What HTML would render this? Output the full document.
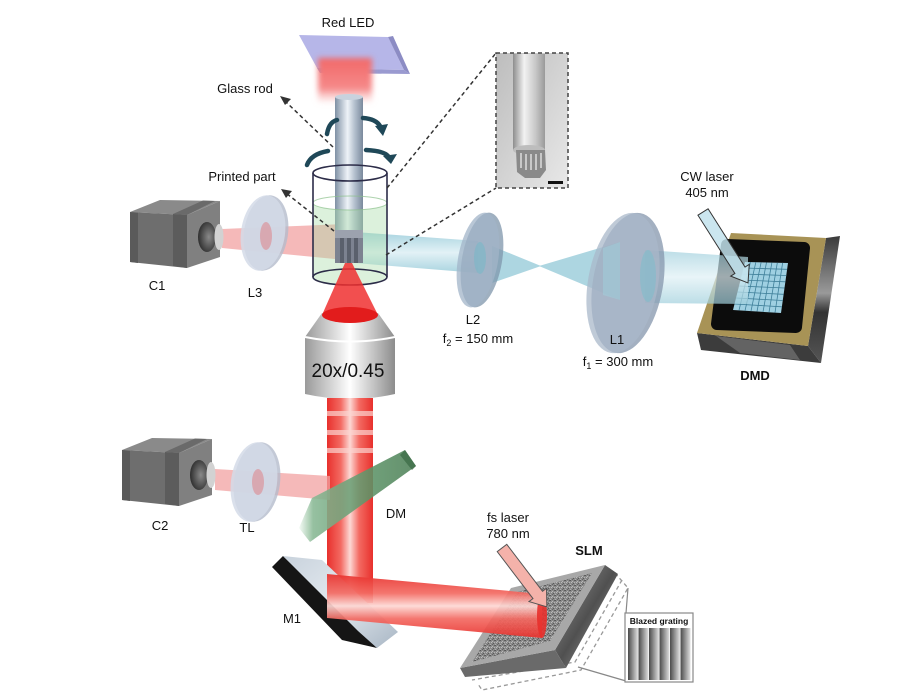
<!DOCTYPE html>
<html><head><meta charset="utf-8"><style>
html,body{margin:0;padding:0;background:#fff;}
svg{display:block;}
text{font-family:"Liberation Sans",Arial,sans-serif;fill:#111;}
</style></head><body>
<svg width="921" height="700" viewBox="0 0 921 700" xmlns="http://www.w3.org/2000/svg">
<defs>
<linearGradient id="rod" x1="0" y1="0" x2="1" y2="0">
<stop offset="0" stop-color="#7f90a4"/><stop offset="0.45" stop-color="#eef3f8"/><stop offset="0.7" stop-color="#b4c0ce"/><stop offset="1" stop-color="#7a899c"/></linearGradient>
<linearGradient id="silver" x1="0" y1="0" x2="1" y2="0">
<stop offset="0" stop-color="#9a9a9a"/><stop offset="0.3" stop-color="#d6d6d6"/><stop offset="0.5" stop-color="#ffffff"/><stop offset="0.75" stop-color="#c6c6c6"/><stop offset="1" stop-color="#8c8c8c"/></linearGradient>
<linearGradient id="redV" x1="0" y1="0" x2="1" y2="0">
<stop offset="0" stop-color="#e8302c"/><stop offset="0.3" stop-color="#f36a62"/><stop offset="0.5" stop-color="#fdd8d4"/><stop offset="0.7" stop-color="#f36a62"/><stop offset="1" stop-color="#e8302c"/></linearGradient>
<linearGradient id="redH" x1="0" y1="0" x2="0" y2="1">
<stop offset="0" stop-color="#e8302c"/><stop offset="0.3" stop-color="#f36a62"/><stop offset="0.5" stop-color="#fdd8d4"/><stop offset="0.7" stop-color="#f36a62"/><stop offset="1" stop-color="#e8302c"/></linearGradient>
<linearGradient id="blueH" x1="0" y1="0" x2="0" y2="1">
<stop offset="0" stop-color="#9fcfdc"/><stop offset="0.5" stop-color="#dff0f5"/><stop offset="1" stop-color="#9fcfdc"/></linearGradient>
<linearGradient id="glow" x1="0" y1="0" x2="0" y2="1">
<stop offset="0" stop-color="#f26868"/><stop offset="0.7" stop-color="#f58a8a"/><stop offset="1" stop-color="#fbd0d0" stop-opacity="0.3"/></linearGradient>
<linearGradient id="green" x1="0" y1="0" x2="1" y2="0">
<stop offset="0" stop-color="#f4fbf5"/><stop offset="0.12" stop-color="#88b894"/><stop offset="0.6" stop-color="#5d9468"/><stop offset="1" stop-color="#4e8058"/></linearGradient>
<linearGradient id="inset" x1="0" y1="0" x2="1" y2="1">
<stop offset="0" stop-color="#bdbdbd"/><stop offset="1" stop-color="#e8e8e8"/></linearGradient>
<linearGradient id="irod" x1="0" y1="0" x2="1" y2="0">
<stop offset="0" stop-color="#8e8e8e"/><stop offset="0.35" stop-color="#f2f2f2"/><stop offset="0.7" stop-color="#c8c8c8"/><stop offset="1" stop-color="#9a9a9a"/></linearGradient>
<linearGradient id="bar" x1="0" y1="0" x2="1" y2="0">
<stop offset="0" stop-color="#4a4a4a"/><stop offset="1" stop-color="#e0e0e0"/></linearGradient>
<linearGradient id="slmside" x1="0" y1="0" x2="1" y2="1">
<stop offset="0" stop-color="#9a9a9a"/><stop offset="0.5" stop-color="#505050"/><stop offset="1" stop-color="#b0b0b0"/></linearGradient>
<linearGradient id="mirror" x1="0" y1="0" x2="1" y2="1">
<stop offset="0" stop-color="#c8d2dc"/><stop offset="0.5" stop-color="#e4eaf0"/><stop offset="1" stop-color="#a8b6c4"/></linearGradient>
<linearGradient id="dmdside" x1="0" y1="0" x2="0" y2="1">
<stop offset="0" stop-color="#3a3a3a"/><stop offset="0.45" stop-color="#9a9a9a"/><stop offset="0.6" stop-color="#333"/><stop offset="1" stop-color="#555"/></linearGradient>
<radialGradient id="lenshole" cx="0.6" cy="0.5" r="0.6">
<stop offset="0" stop-color="#8a8a8a"/><stop offset="1" stop-color="#2e2e2e"/></radialGradient>
<filter id="blur3" x="-30%" y="-30%" width="160%" height="160%"><feGaussianBlur stdDeviation="3"/></filter>
<pattern id="sp" width="5" height="5" patternUnits="userSpaceOnUse">
<rect width="5" height="5" fill="#8a8a8a"/>
<rect x="0" y="0" width="1" height="1" fill="#585858"/>
<rect x="2" y="1" width="1" height="1" fill="#b8b8b8"/>
<rect x="4" y="0" width="1" height="1" fill="#606060"/>
<rect x="1" y="2" width="1" height="1" fill="#bcbcbc"/>
<rect x="3" y="3" width="1" height="1" fill="#5a5a5a"/>
<rect x="0" y="4" width="1" height="1" fill="#b0b0b0"/>
<rect x="2" y="4" width="1" height="1" fill="#646464"/>
<rect x="4" y="2" width="1" height="1" fill="#b4b4b4"/>
</pattern>
</defs>

<!-- Red LED plate -->
<polygon points="299,35 388,37 404,70 317,68" fill="#b6b6e8"/>
<polygon points="388,37 393,36 410,74 404,70" fill="#8c8cc4"/>
<polygon points="317,68 404,70 410,74 320,73" fill="#9a9ad0"/>
<!-- glow -->
<rect x="318" y="58" width="54" height="44" fill="url(#glow)" filter="url(#blur3)"/>

<!-- pink beam C1 -> vial -->
<polygon points="222,229 345,224 345,260 222,248" fill="#f2a2a2" opacity="0.75"/>
<!-- blue beam vial -> L2 -->
<polygon points="355,232 478,241 478,273 355,263" fill="url(#blueH)" opacity="0.9"/>

<!-- glass rod -->
<rect x="335" y="97" width="28" height="135" fill="url(#rod)"/>
<ellipse cx="349" cy="97" rx="14" ry="3" fill="#c8d2de"/>

<!-- vial -->
<path d="M313,203 L313,277 A37,8 0 0 0 387,277 L387,203 A37,7 0 0 1 313,203 Z" fill="#a8dca8" opacity="0.4"/>
<ellipse cx="350" cy="203" rx="37" ry="7" fill="none" stroke="#8cc08c" stroke-width="1" opacity="0.7"/>
<!-- printed part -->
<rect x="335" y="230" width="28" height="33" fill="#7c8290"/>
<rect x="340" y="238" width="4" height="25" fill="#5a606c"/>
<rect x="347" y="238" width="4" height="25" fill="#5a606c"/>
<rect x="354" y="238" width="4" height="25" fill="#5a606c"/>
<rect x="335" y="230" width="28" height="8" fill="#9ca2ae"/>
<!-- vial outline -->
<ellipse cx="350" cy="173" rx="37" ry="8" fill="none" stroke="#2c2c48" stroke-width="1.6"/>
<line x1="313" y1="173" x2="313" y2="277" stroke="#2c2c48" stroke-width="1.6"/>
<line x1="387" y1="173" x2="387" y2="277" stroke="#2c2c48" stroke-width="1.6"/>
<ellipse cx="350" cy="277" rx="37" ry="8" fill="none" stroke="#2c2c48" stroke-width="1.6"/>

<!-- L3 -->
<ellipse cx="266" cy="233" rx="22" ry="38" transform="rotate(8 266 233)" fill="#b4bccc" opacity="0.8"/>
<ellipse cx="263" cy="233" rx="22" ry="38" transform="rotate(8 263 233)" fill="#d4dbe8" opacity="0.85"/>
<ellipse cx="266" cy="236" rx="6" ry="14" fill="#e07a80" opacity="0.5"/>

<!-- C1 camera -->
<g id="cam1">
<polygon points="130,212 160,200 220,201 187,215" fill="#8a8a8a"/>
<polygon points="173,214 203,200.5 215,201 187,215" fill="#6a6a6a"/>
<polygon points="130,212 187,215 187,268 130,262" fill="#6e6e6e"/>
<polygon points="130,212 138,212.5 138,263 130,262" fill="#5a5a5a"/>
<polygon points="173,214 187,215 187,268 173,266" fill="#5c5c5c"/>
<polygon points="187,215 220,201 220,257 187,268" fill="#808080"/>
<ellipse cx="207" cy="237" rx="9" ry="15" fill="url(#lenshole)"/>
<ellipse cx="219" cy="237" rx="4.5" ry="13" fill="#d2d2d2"/>
</g>

<!-- DMD -->
<polygon points="826,238 840,236 821,363 808,346" fill="url(#dmdside)"/>
<polygon points="697,333 808,346 821,363 701,350" fill="#3c3c3c"/>
<polygon points="716,336 790,345 800,360 740,353" fill="#8a8a8a" opacity="0.5"/>
<polygon points="731,233 826,238 808,346 697,333" fill="#a89356"/>
<polygon points="727,245 804,248 796,327 717,324" fill="#0c0c0c" stroke="#0c0c0c" stroke-width="12" stroke-linejoin="round"/>
<polygon points="745,262 788,263 781,313 733,310" fill="#9fd0e2"/>
<g stroke="#3f7f99" stroke-width="0.8">
<line x1="750.4" y1="262.1" x2="739" y2="310.4"/><line x1="755.8" y1="262.3" x2="745" y2="310.8"/><line x1="761.1" y1="262.4" x2="751" y2="311.1"/><line x1="766.5" y1="262.5" x2="757" y2="311.5"/><line x1="771.9" y1="262.6" x2="763" y2="311.9"/><line x1="777.3" y1="262.8" x2="769" y2="312.3"/><line x1="782.6" y1="262.9" x2="775" y2="312.6"/>
<line x1="743.5" y1="268" x2="787.1" y2="269.3"/><line x1="742" y1="274" x2="786.3" y2="275.5"/><line x1="740.5" y1="280" x2="785.4" y2="281.8"/><line x1="739" y1="286" x2="784.5" y2="288"/><line x1="737.5" y1="292" x2="783.6" y2="294.3"/><line x1="736" y1="298" x2="782.8" y2="300.5"/><line x1="734.5" y1="304" x2="781.9" y2="306.8"/>
</g>

<!-- blue beams L2 -> L1 -> DMD -->
<polygon points="492,246 541,266 492,283" fill="#9fcfdc" opacity="0.85"/>
<polygon points="539,266 620,242 620,300" fill="#9fcfdc" opacity="0.85"/>
<polygon points="645,250 748,257 748,304 645,303" fill="url(#blueH)" opacity="0.7"/>

<!-- L2 -->
<ellipse cx="482" cy="260" rx="20" ry="48" transform="rotate(10 482 260)" fill="#7f95ab" opacity="0.75"/>
<ellipse cx="478" cy="260" rx="20" ry="48" transform="rotate(10 478 260)" fill="#a2b4c8" opacity="0.75"/>
<ellipse cx="480" cy="258" rx="6" ry="16" fill="#7ab8c8" opacity="0.6"/>
<!-- L1 -->
<ellipse cx="628" cy="283" rx="35" ry="71" transform="rotate(10 628 283)" fill="#8496ac" opacity="0.75"/>
<ellipse cx="623" cy="283" rx="35" ry="71" transform="rotate(10 623 283)" fill="#a9b8ca" opacity="0.75"/>
<polygon points="603,248 620,242 620,300 603,295" fill="#9fcfdc" opacity="0.5"/>
<ellipse cx="648" cy="276" rx="8" ry="26" fill="#80bccc" opacity="0.6"/>

<!-- inset -->
<line x1="387" y1="188" x2="496" y2="53" stroke="#333" stroke-width="1.5" stroke-dasharray="4,3"/>
<line x1="386" y1="255" x2="496" y2="188" stroke="#333" stroke-width="1.5" stroke-dasharray="4,3"/>
<rect x="496" y="53" width="72" height="135" fill="url(#inset)" stroke="#444" stroke-width="1.5" stroke-dasharray="4,3"/>
<rect x="513" y="54" width="32" height="96" fill="url(#irod)"/>
<ellipse cx="529" cy="150" rx="16" ry="5" fill="#bdbdbd"/>
<path d="M516,150 L517,172 L525,178 L540,178 L546,170 L545,150 Z" fill="#8a8a8a"/>
<g stroke="#dcdcdc" stroke-width="1.5"><line x1="521" y1="153" x2="521" y2="168"/><line x1="526" y1="154" x2="526" y2="170"/><line x1="531" y1="154" x2="531" y2="170"/><line x1="536" y1="154" x2="536" y2="170"/><line x1="541" y1="153" x2="541" y2="168"/></g>
<rect x="548" y="181" width="15" height="3" fill="#111"/>

<!-- objective -->
<polygon points="345,263 352,263 378,315 322,315" fill="#f03030" opacity="0.85"/>
<polygon points="322,313 378,313 395,337 305,337" fill="url(#silver)"/>
<ellipse cx="350" cy="315" rx="28" ry="8" fill="#e21c1c"/>
<path d="M305,337 L395,337 L395,394 Q350,404 305,394 Z" fill="url(#silver)"/>
<path d="M305,337 Q350,346 395,337" fill="none" stroke="#fff" stroke-width="2"/>
<text x="348" y="377" font-size="19" text-anchor="middle">20x/0.45</text>

<!-- vertical red beam -->
<rect x="327" y="398" width="46" height="205" fill="url(#redV)"/>
<rect x="327" y="411" width="46" height="5" fill="#fbd4d0" opacity="0.7"/>
<rect x="327" y="430" width="46" height="5" fill="#fbd4d0" opacity="0.7"/>
<rect x="327" y="448" width="46" height="5" fill="#fbd4d0" opacity="0.7"/>

<!-- C2 beam / TL / camera -->
<polygon points="215,469 330,476 330,500 215,490" fill="#f2a2a2" opacity="0.75"/>
<ellipse cx="257" cy="482" rx="23" ry="40" transform="rotate(8 257 482)" fill="#b4bccc" opacity="0.8"/>
<ellipse cx="254" cy="482" rx="23" ry="40" transform="rotate(8 254 482)" fill="#d4dbe8" opacity="0.85"/>
<ellipse cx="258" cy="482" rx="6" ry="13" fill="#e07a80" opacity="0.5"/>
<use href="#cam1" transform="translate(-8,238)"/>

<!-- DM -->
<polygon points="312,498 405,450 416,466 310,542 299,528" fill="url(#green)" opacity="0.88"/>
<polygon points="405,450 416,466 412,470 400,455" fill="#3e6e48" opacity="0.8"/>

<!-- M1 -->
<polygon points="272,567 283,556 360,630 377,648 342,640" fill="#151515"/>
<polygon points="283,556 322,560 398,632 377,648 358,631" fill="url(#mirror)"/>

<!-- SLM -->
<polyline points="615,573 628,588 581,670 482,690 478,684" fill="none" stroke="#999" stroke-width="1.3" stroke-dasharray="4,3"/>
<polyline points="622,580 575,662 472,680" fill="none" stroke="#999" stroke-width="1.3" stroke-dasharray="4,3"/>
<polygon points="605,565 618,574 566,668 555,650" fill="url(#slmside)"/>
<polygon points="460,668 555,650 566,668 465,677" fill="#6a6a6a"/>
<polygon points="460,668 511,588 605,565 555,650" fill="#a8a8a8"/>
<polygon points="472,662 517,592 592,573 550,641" fill="url(#sp)"/>
<line x1="628" y1="588" x2="626" y2="613" stroke="#888" stroke-width="1.2"/>
<line x1="578" y1="667" x2="626" y2="681" stroke="#888" stroke-width="1.2"/>
<rect x="625" y="613" width="68" height="69" fill="#fff" stroke="#888" stroke-width="1.2"/>
<text x="659" y="624" font-size="8.5" font-weight="bold" text-anchor="middle">Blazed grating</text>
<g fill="url(#bar)">
<rect x="628" y="628" width="10" height="52"/><rect x="638.5" y="628" width="10" height="52"/><rect x="649" y="628" width="10" height="52"/><rect x="659.5" y="628" width="10" height="52"/><rect x="670" y="628" width="10" height="52"/><rect x="680.5" y="628" width="10" height="52"/>
</g>

<!-- horizontal red beam -->
<polygon points="327,574 542,594 542,638 327,618" fill="url(#redH)" opacity="0.92"/>
<ellipse cx="542" cy="616" rx="5" ry="22" fill="#e8302c" opacity="0.9"/>

<!-- arrows -->
<g transform="translate(502,548) rotate(52.7)">
<polygon points="0,-6 59,-6 59,-11 74,0 59,11 59,6 0,6" fill="#f4b2aa" stroke="#555" stroke-width="1"/>
</g>
<g transform="translate(703,212) rotate(57.6)">
<polygon points="0,-6 69,-6 69,-11 84,0 69,11 69,6 0,6" fill="#c2e2ec" fill-opacity="0.85" stroke="#333" stroke-width="1"/>
</g>

<!-- rotation arrows -->
<g fill="none" stroke="#1f4858" stroke-width="4.5" stroke-linecap="round">
<path d="M327,134 Q329,122 337,120"/>
<path d="M363,118 Q376,119 380,126"/>
<path d="M307,165 Q311,154 328,151"/>
<path d="M366,150 Q384,151 388,156"/>
</g>
<polygon points="375,126 388,124 383,136" fill="#1f4858"/>
<polygon points="383,156 397,154 391,164" fill="#1f4858"/>

<!-- dashed label arrows -->
<g stroke="#333" stroke-width="1.5" stroke-dasharray="4,3" fill="none">
<line x1="333" y1="147" x2="285" y2="101"/>
<line x1="334" y1="231" x2="286" y2="193"/>
</g>
<polygon points="280,96 291,99 285,105" fill="#333"/>
<polygon points="281,189 292,191 286,198" fill="#333"/>

<!-- labels -->
<g font-size="13" text-anchor="middle">
<text x="348" y="27">Red LED</text>
<text x="245" y="93">Glass rod</text>
<text x="242" y="181">Printed part</text>
<text x="157" y="290">C1</text>
<text x="255" y="297">L3</text>
<text x="473" y="324">L2</text>
<text x="478" y="343">f<tspan font-size="9" dy="3">2</tspan><tspan dy="-3"> = 150 mm</tspan></text>
<text x="617" y="344">L1</text>
<text x="618" y="366">f<tspan font-size="9" dy="3">1</tspan><tspan dy="-3"> = 300 mm</tspan></text>
<text x="707" y="181">CW laser</text>
<text x="707" y="197">405 nm</text>
<text x="755" y="380" font-weight="bold">DMD</text>
<text x="160" y="530">C2</text>
<text x="247" y="532">TL</text>
<text x="396" y="518">DM</text>
<text x="292" y="623">M1</text>
<text x="508" y="522">fs laser</text>
<text x="508" y="538">780 nm</text>
<text x="589" y="555" font-weight="bold">SLM</text>
</g>
</svg>
</body></html>
